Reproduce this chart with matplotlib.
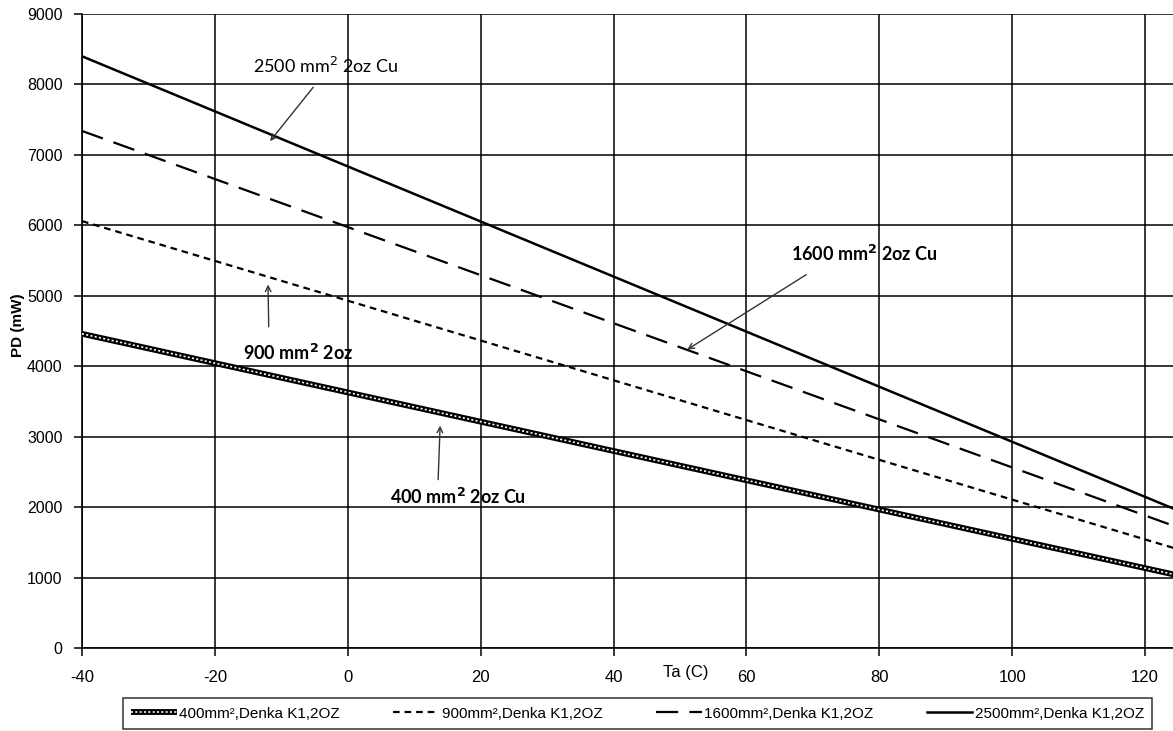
import matplotlib
matplotlib.use("Agg")
import matplotlib.pyplot as plt
from matplotlib.lines import Line2D

# DATA
ta = [-40, 125]
pd_400 = [4460, 1030]
pd_900 = [6060, 1400]
pd_1600 = [7340, 1710]
pd_2500 = [8400, 1950]

x_ticks = [-40, -20, 0, 20, 40, 60, 80, 100, 120]
y_ticks = [0, 1000, 2000, 3000, 4000, 5000, 6000, 7000, 8000, 9000]

legend_labels = ["400mm²,Denka K1,2OZ", "900mm²,Denka K1,2OZ",
                 "1600mm²,Denka K1,2OZ", "2500mm²,Denka K1,2OZ"]

plt.rcParams["axes.unicode_minus"] = False
tick_font = ["Liberation Sans", "DejaVu Sans"]
note_font = ["Lato", "DejaVu Sans"]

fig = plt.figure(figsize=(11.73, 7.31), dpi=100)
ax = fig.add_axes([82 / 1173, 83 / 731, 1 - 82 / 1173, (648 - 14) / 731])

# LINES
ax.plot(ta, pd_400, color="black", lw=4.2, solid_capstyle="butt", zorder=3)
ax.plot(ta, pd_400, color="white", lw=1.2, ls=(0, (1.2, 1.4)), zorder=4)
ax.plot(ta, pd_900, color="black", lw=1.6, ls=(0, (3, 2.2)), zorder=3)
ax.plot(ta, pd_1600, color="black", lw=1.6, ls=(0, (10, 5)), zorder=3)
ax.plot(ta, pd_2500, color="black", lw=1.8, zorder=3)

ax.set_xlim(-40, 124.2)
ax.set_ylim(0, 9000)
ax.set_xticks(x_ticks)
ax.set_yticks(y_ticks)
ax.grid(True, color="black", lw=1.1)
ax.set_axisbelow(True)
for side in ["top", "right"]:
    ax.spines[side].set_visible(False)
for side in ["left", "bottom"]:
    ax.spines[side].set_linewidth(1.2)
ax.tick_params(length=6, width=1.1, direction="out", pad=10)
for lab in ax.get_xticklabels():
    lab.set_fontfamily(tick_font)
    lab.set_fontsize(12)
for lab in ax.get_yticklabels():
    lab.set_fontfamily(tick_font)
    lab.set_fontsize(11.5)
ax.tick_params(axis="y", pad=8)

# AXIS TITLES
fig.text(18 / 1173, 1 - 325 / 731, "PD (mW)", rotation=90, ha="center", va="center",
         fontsize=11, fontweight="bold", family=tick_font)
fig.text(686 / 1173, 1 - 672 / 731, "Ta (C)", ha="center", va="center",
         fontsize=12, family=tick_font)

# ANNOTATIONS
arrow = dict(arrowstyle="->", color="#333333", lw=1.0, shrinkA=0, shrinkB=0)
ax.annotate("2500 mm$^2$ 2oz Cu", xy=(-11.7, 7195), xytext=(-3.3, 8260),
            ha="center", va="center", fontsize=13, family=note_font)
ax.annotate("", xy=(-11.7, 7195), xytext=(-5.2, 7960), arrowprops=arrow)
ax.annotate(r"1600 mm$^\mathbf{2}$ 2oz Cu", xy=(51.1, 4237), xytext=(77.8, 5590),
            ha="center", va="center", fontsize=13, fontweight="bold", family=note_font)
ax.annotate("", xy=(51.1, 4237), xytext=(69.0, 5300), arrowprops=arrow)
ax.annotate(r"900 mm$^\mathbf{2}$ 2oz", xy=(-12.0, 5160), xytext=(-7.5, 4190),
            ha="center", va="center", fontsize=13, fontweight="bold", family=note_font)
ax.annotate("", xy=(-12.0, 5160), xytext=(-11.9, 4560), arrowprops=arrow)
ax.annotate(r"400 mm$^\mathbf{2}$ 2oz Cu", xy=(13.9, 3157), xytext=(16.6, 2150),
            ha="center", va="center", fontsize=13, fontweight="bold", family=note_font)
ax.annotate("", xy=(13.9, 3157), xytext=(13.6, 2390), arrowprops=arrow)

# LEGEND
h400 = (Line2D([], [], color="black", lw=4.2, solid_capstyle="butt"),
        Line2D([], [], color="white", lw=1.2, ls=(0, (1.2, 1.4))))
h900 = Line2D([], [], color="black", lw=1.6, ls=(0, (3, 2.2)))
h1600 = Line2D([], [], color="black", lw=1.6, ls=(0, (10, 5)))
h2500 = Line2D([], [], color="black", lw=1.8)
leg = fig.legend([h400, h900, h1600, h2500], legend_labels, ncol=4,
                 loc="center", bbox_to_anchor=(637.5 / 1173, 1 - 713.5 / 731),
                 frameon=True, fancybox=False, edgecolor="black", handlelength=3.0,
                 handletextpad=0.15, columnspacing=3.5, borderpad=0.55,
                 prop={"family": tick_font, "size": 11})
leg.get_frame().set_linewidth(1.1)

fig.savefig("out.png", dpi=100)
